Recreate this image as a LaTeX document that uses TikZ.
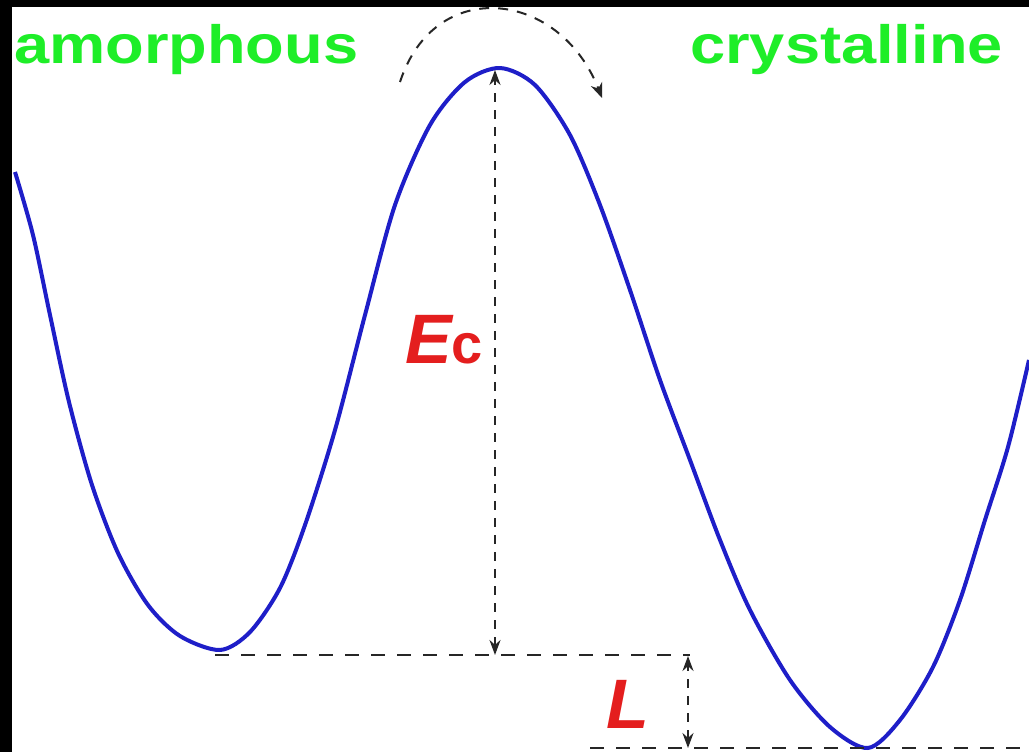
\documentclass[tikz,border=0pt]{standalone}
\usepackage{fontspec}
\setmainfont{Liberation Sans}
\usetikzlibrary{arrows.meta}
\definecolor{phasegreen}{RGB}{30,238,40}
\definecolor{curveblue}{RGB}{30,30,200}
\definecolor{energyred}{RGB}{228,30,30}
\begin{document}
\begin{tikzpicture}[x=1pt, y=-1pt,
    phase/.style={text=phasegreen, font=\bfseries\fontsize{54}{60}\selectfont, inner sep=0pt, anchor=base west, xscale=1.17},
    energy/.style={text=energyred, font=\bfseries\itshape\fontsize{70}{80}\selectfont, inner sep=0pt, anchor=base west},
    guide/.style={line width=2pt, black!85, dash pattern=on 14pt off 12pt},
    gap/.style={guide, dash pattern=on 9pt off 8pt, {Stealth[length=15pt,width=11pt]}-{Stealth[length=15pt,width=11pt]}}
  ]
  \useasboundingbox (0,0) rectangle (1029,752);
  % frame
  \fill[black] (0,0) rectangle (1029,752);
  \fill[white] (12,7) rectangle (1029,752);

  % labels
  \node[phase] (amorph) at (14,64) {amorphous};
  \node[phase] (cryst) at (690,64) {crystalline};
  \node[energy] (ec) at (405,363) {E\upshape\fontsize{56}{60}\selectfont c};
  \node[energy] (lat) at (606,728) {L};

  % energy curve
  \draw[curveblue, line width=4pt, line join=round] plot[smooth, tension=0.5] coordinates {
    (15,172) (33,235) (50,315) (69,402) (92,485) (118,553) (148,605) (180,636) (220,650)
    (250,632) (280,588) (305,525) (335,430) (365,315) (395,205) (430,125) (465,82) (500,68)
    (535,85) (570,135) (600,205) (630,290) (660,380) (690,460) (720,540) (750,610) (790,680)
    (830,727) (868,748) (900,720) (933,667) (960,600) (985,520) (1008,447) (1029,360)};

  \coordinate (amin) at (215,655);
  \coordinate (peak) at (495,70);
  \coordinate (ecfoot) at (495,655);
  \coordinate (lend) at (690,655);
  \coordinate (ltop) at (688,656);
  \coordinate (lfoot) at (688,748);
  \coordinate (bstart) at (590,748);
  \coordinate (bend) at (1029,748);
  \coordinate (hopstart) at (400,82);
  \coordinate (hopend) at (602,98);

  % levels
  \draw[guide] (amin) -- (lend);
  \draw[guide] (bstart) -- (bend);
  \draw[gap] (ecfoot) -- (peak);
  \draw[gap] (lfoot) -- (ltop);
  \draw[guide, dash pattern=on 10pt off 9pt, -{Stealth[length=15pt,width=12pt]}]
    (hopstart) .. controls (435,-25) and (560,-10) .. (hopend);
\end{tikzpicture}
\end{document}
